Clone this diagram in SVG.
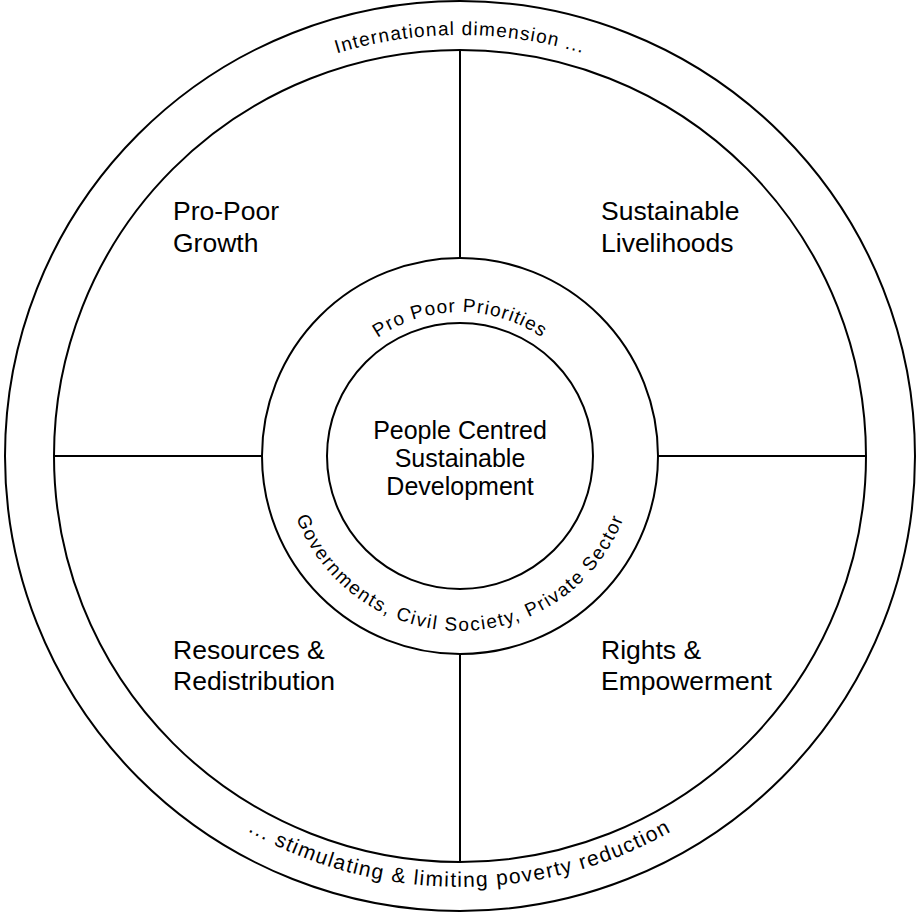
<svg xmlns="http://www.w3.org/2000/svg" xmlns:xlink="http://www.w3.org/1999/xlink" width="917" height="913" viewBox="0 0 917 913">
  <style>
    .ring { fill: none; stroke: #000; stroke-width: 2; }
    .divider { stroke: #000; stroke-width: 2; }
    .label { font-family: "Liberation Sans", Arial, Helvetica, sans-serif; font-size: 26.5px; fill: #000; }
    .center { font-family: "Liberation Sans", Arial, Helvetica, sans-serif; font-size: 25px; fill: #000; text-anchor: middle; }
    .arc { font-family: "Liberation Sans", Arial, Helvetica, sans-serif; fill: #000; }
  </style>
  <defs>
    <!-- baselines for the curved captions, all centred on (460,456) -->
    <path id="outerTop" d="M 39,456 A 421,421 0 0 1 881,456"/>
    <path id="outerBottom" d="M 29,456 A 431,431 0 0 0 891,456"/>
    <path id="ringTop" d="M 316,456 A 144,144 0 0 1 604,456"/>
    <path id="ringBottom" d="M 285,456 A 175,175 0 0 0 635,456"/>
  </defs>

  <rect width="917" height="913" fill="#fff"/>

  <!-- concentric rings -->
  <g id="outer-band">
    <circle class="ring" cx="460" cy="456" r="455"/>
    <circle class="ring" cx="460" cy="456" r="406"/>
  </g>

  <!-- quadrant dividers -->
  <g id="connectors">
    <line class="divider" x1="460" y1="50" x2="460" y2="258"/>
    <line class="divider" x1="460" y1="654" x2="460" y2="862"/>
    <line class="divider" x1="54" y1="456" x2="262" y2="456"/>
    <line class="divider" x1="658" y1="456" x2="866" y2="456"/>
  </g>

  <g id="actors-ring">
    <circle class="ring" cx="460" cy="456" r="198"/>
    <text class="arc" font-size="19" letter-spacing="1.1"><textPath href="#ringTop" xlink:href="#ringTop" startOffset="50%" text-anchor="middle">Pro Poor Priorities</textPath></text>
    <text class="arc" font-size="19" letter-spacing="1.6"><textPath href="#ringBottom" xlink:href="#ringBottom" startOffset="50%" text-anchor="middle">Governments, Civil Society, Private Sector</textPath></text>
  </g>

  <g id="core">
    <circle class="ring" cx="460" cy="456" r="133"/>
    <text class="center" x="460" y="439">People Centred</text>
    <text class="center" x="460" y="467">Sustainable</text>
    <text class="center" x="460" y="495">Development</text>
  </g>

  <g id="international">
    <text class="arc" font-size="19" letter-spacing="1.2"><textPath href="#outerTop" xlink:href="#outerTop" startOffset="50%" text-anchor="middle">International dimension ...</textPath></text>
    <text class="arc" font-size="21" letter-spacing="1.4"><textPath href="#outerBottom" xlink:href="#outerBottom" startOffset="50%" text-anchor="middle">... stimulating &amp; limiting poverty reduction</textPath></text>
  </g>

  <g id="pro-poor-growth">
    <text class="label" x="173" y="220">Pro-Poor</text>
    <text class="label" x="173" y="252">Growth</text>
  </g>

  <g id="sustainable-livelihoods">
    <text class="label" x="601" y="220">Sustainable</text>
    <text class="label" x="601" y="252">Livelihoods</text>
  </g>

  <g id="resources-redistribution">
    <text class="label" x="173" y="659">Resources &amp;</text>
    <text class="label" x="173" y="690">Redistribution</text>
  </g>

  <g id="rights-empowerment">
    <text class="label" x="601" y="659">Rights &amp;</text>
    <text class="label" x="601" y="690">Empowerment</text>
  </g>
</svg>
